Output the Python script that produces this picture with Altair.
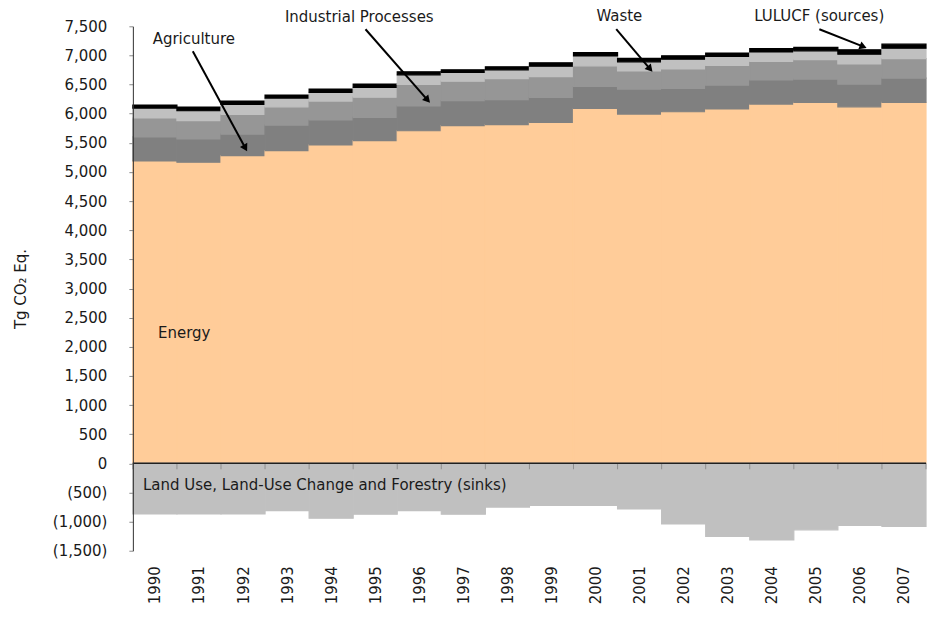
import altair as alt
import pandas as pd

years = list(range(1990, 2008))
energy = [5190, 5167, 5280, 5366, 5464, 5538, 5708, 5794, 5812, 5852, 6092, 5994, 6034, 6081, 6166, 6195, 6119, 6195]
agriculture = [411, 399, 371, 439, 428, 400, 428, 428, 428, 428, 377, 428, 401, 411, 416, 399, 389, 416]
industrial = [326, 315, 335, 313, 324, 346, 369, 336, 363, 356, 353, 313, 333, 336, 314, 335, 346, 334]
waste = [170, 170, 175, 150, 150, 168, 162, 150, 150, 180, 170, 155, 168, 155, 165, 150, 168, 180]
lulucf_sources = [52, 63, 56, 52, 57, 57, 52, 45, 52, 57, 57, 59, 57, 57, 58, 58, 74, 69]
lulucf_sinks = [-868, -868, -868, -810, -942, -873, -810, -873, -750, -724, -724, -783, -1040, -1255, -1314, -1142, -1067, -1084]

series_names = ["Energy", "Agriculture", "Industrial Processes", "Waste", "LULUCF (sources)", "LULUCF (sinks)"]
series_colors = ["#FFCC99", "#808080", "#969696", "#C0C0C0", "#000000", "#C0C0C0"]
series_values = [energy, agriculture, industrial, waste, lulucf_sources, lulucf_sinks]

y_ticks = list(range(-1500, 7501, 500))
x_bounds = [y - 0.5 for y in years] + [years[-1] + 0.5]

ann_text = ["Agriculture", "Industrial Processes", "Waste", "LULUCF (sources)", "Energy",
            "Land Use, Land-Use Change and Forestry (sinks)"]
ann_x = [1989.95, 1992.95, 2000.02, 2003.60, 1990.07, 1989.73]
ann_y = [7287, 7655, 7672, 7672, 2244, -377]

arrow_x = [1990.86, 1994.78, 2000.47, 2005.08]
arrow_y = [7073, 7450, 7450, 7450]
arrow_x2 = [1992.04, 1996.17, 2001.22, 2006.05]
arrow_y2 = [5429, 6251, 6782, 7159]
arrow_angle = [151, 138, 139, 112]

rows = []
for i, yr in enumerate(years):
    for k, (name, vals) in enumerate(zip(series_names, series_values)):
        rows.append({"year": yr, "series": name, "value": vals[i], "order": k})
df = pd.DataFrame(rows)
ann_df = pd.DataFrame({"text": ann_text, "x": ann_x, "y": ann_y})
arrow_df = pd.DataFrame({"x": arrow_x, "y": arrow_y, "x2": arrow_x2, "y2": arrow_y2, "angle": arrow_angle})
zero_df = pd.DataFrame({"b": x_bounds, "v": [0] * len(x_bounds)})
zero_line_df = pd.DataFrame({"v": [0]})

FONT = "DejaVu Sans"
TXT = "#1a1a1a"
W, H = 794, 525
YMIN, YMAX = -1500, 7500

xscale = alt.Scale(domain=[years[0] - 0.5, years[-1] + 0.5], nice=False, zero=False)
yscale = alt.Scale(domain=[YMIN, YMAX], nice=False, zero=False)
cscale = alt.Scale(domain=series_names, range=series_colors)

label_axis = alt.Axis(orient="bottom", values=years, labelAngle=270, ticks=False, domain=False,
                      labelPadding=15, labelFontSize=15, labelFont=FONT, labelColor=TXT,
                      format="d", grid=False, title=None)
y_axis = alt.Axis(orient="left", values=y_ticks,
                  labelExpr="datum.value < 0 ? '(' + format(-datum.value, ',') + ')' : format(datum.value, ',')",
                  labelFontSize=15, labelFont=FONT, labelColor=TXT, tickSize=4, tickColor="#8a8a8a",
                  domainColor="#303030", labelPadding=22, grid=False,
                  title="Tg CO\u2082 Eq.", titleFont=FONT, titleFontSize=15, titleFontWeight="normal",
                  titleColor=TXT, titlePadding=24, zindex=2)

areas = alt.Chart(df).transform_calculate(
    x0="datum.year - 0.5", x1="datum.year + 0.5"
).transform_stack(
    stack="value", groupby=["year"], as_=["y0", "y1"],
    sort=[alt.SortField("order", order="ascending")]
).mark_rect(strokeWidth=1.2).encode(
    x=alt.X("x0:Q", scale=xscale, axis=label_axis),
    x2="x1:Q",
    y=alt.Y("y0:Q", scale=yscale, axis=y_axis),
    y2="y1:Q",
    color=alt.Color("series:N", scale=cscale, legend=None),
    stroke=alt.Stroke("series:N", scale=cscale, legend=None),
)

zero_line = alt.Chart(zero_line_df).mark_rule(color="#202020", strokeWidth=1.5).encode(
    y=alt.Y("v:Q", scale=yscale, axis=None),
)

zero_ticks = alt.Chart(zero_df).mark_tick(orient="vertical", color="#7a7a7a", thickness=1, size=6, yOffset=3).encode(
    x=alt.X("b:Q", scale=xscale, axis=None),
    y=alt.Y("v:Q", scale=yscale, axis=None),
)

texts = alt.Chart(ann_df).mark_text(align="left", baseline="middle", font=FONT, fontSize=15, color=TXT).encode(
    x=alt.X("x:Q", scale=xscale, axis=None),
    y=alt.Y("y:Q", scale=yscale, axis=None),
    text="text:N",
)

arrows = alt.Chart(arrow_df).mark_rule(color="#000000", strokeWidth=2).encode(
    x=alt.X("x:Q", scale=xscale, axis=None),
    y=alt.Y("y:Q", scale=yscale, axis=None),
    x2="x2:Q",
    y2="y2:Q",
)

heads = alt.Chart(arrow_df).mark_point(shape="triangle", filled=True, size=70, color="#000000", opacity=1).encode(
    x=alt.X("x2:Q", scale=xscale, axis=None),
    y=alt.Y("y2:Q", scale=yscale, axis=None),
    angle=alt.Angle("angle:Q", scale=None),
)

chart = alt.layer(areas, zero_ticks, zero_line, arrows, heads, texts).resolve_axis(
    x="independent", y="independent"
).properties(
    width=W, height=H,
    padding={"left": 5, "top": 0, "right": 0, "bottom": 0},
    background="white",
).configure_view(stroke=None)

chart.save("out.html", embed_options={"renderer": "svg", "actions": False})
